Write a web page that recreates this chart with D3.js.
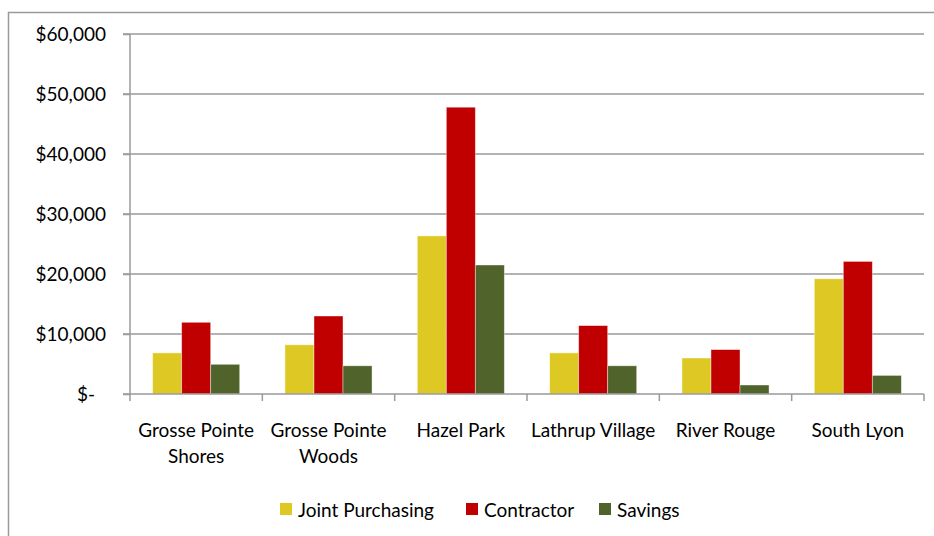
<!DOCTYPE html>
<html><head><meta charset="utf-8">
<script src="https://cdn.jsdelivr.net/npm/d3@7"></script>
<style>body{margin:0;background:#fff}svg{display:block}text{font-family:Lato,"Open Sans",sans-serif;fill:#000}</style>
</head><body><svg id="c" width="934" height="536"></svg>
<script>
const categories = ["Grosse Pointe Shores","Grosse Pointe Woods","Hazel Park","Lathrup Village","River Rouge","South Lyon"];
const categoryLines = [["Grosse Pointe","Shores"],["Grosse Pointe","Woods"],["Hazel Park"],["Lathrup Village"],["River Rouge"],["South Lyon"]];
const seriesNames = ["Joint Purchasing","Contractor","Savings"];
const jointPurchasing = [6850, 8200, 26350, 6850, 6000, 19200];
const contractor = [11950, 13000, 47800, 11400, 7400, 22100];
const savings = [4950, 4700, 21500, 4700, 1500, 3100];
const yTicks = [0,10000,20000,30000,40000,50000,60000];
const yTickLabels = ["$-","$10,000","$20,000","$30,000","$40,000","$50,000","$60,000"];
const colors = ["#DEC823","#C00000","#50632A"];

const seriesValues = [jointPurchasing, contractor, savings];
const svg = d3.select("#c");
const L = 130, R = 924, T = 34, B = 394;
const FS = "19px";

svg.append("rect").attr("x",8.5).attr("y",12.5).attr("width",940).attr("height",540)
  .attr("fill","none").attr("stroke","#9a9a9a").attr("stroke-width",1.5);

const x0 = d3.scaleBand().domain(categories).range([L,R]).padding(0);
const x1 = d3.scaleBand().domain(seriesNames).range([0,x0.bandwidth()]).paddingInner(0).paddingOuter(0.78);
const y = d3.scaleLinear().domain([0,60000]).range([B,T]);

// gridlines
svg.append("g").selectAll("line").data(yTicks.slice(1)).join("line")
  .attr("x1",L-7).attr("x2",R).attr("y1",d=>y(d)).attr("y2",d=>y(d))
  .attr("stroke","#9a9a9a").attr("stroke-width",1.5);

// bars
const g = svg.append("g");
categories.forEach((c,i)=>{
  seriesNames.forEach((s,j)=>{
    const v = seriesValues[j][i];
    g.append("rect").attr("x",x0(c)+x1(s)).attr("y",y(v)).attr("width",x1.bandwidth()).attr("height",y(0)-y(v))
      .attr("fill",colors[j]).attr("stroke","rgba(255,255,255,0.5)").attr("stroke-width",0.8);
  });
});

// y axis
const ya = svg.append("g").attr("transform",`translate(${L},0)`)
  .call(d3.axisLeft(y).tickValues(yTicks).tickSize(7).tickPadding(17).tickFormat((d,i)=>yTickLabels[i]));
ya.select(".domain").attr("stroke","#9a9a9a").attr("stroke-width",1.5).attr("d",`M0,${T}V${B}`);
ya.selectAll(".tick line").attr("stroke","#9a9a9a").attr("stroke-width",1.5);
ya.selectAll(".tick text").style("font-size",FS).style("font-family","Lato, sans-serif").attr("fill","#000");
ya.selectAll(".tick").filter(d=>d===0).select("text").attr("x",-35);

// x axis
svg.append("line").attr("x1",L-7).attr("x2",R).attr("y1",B).attr("y2",B).attr("stroke","#9a9a9a").attr("stroke-width",1.5);
const bounds = categories.map(c=>x0(c)).concat([R]);
svg.append("g").selectAll("line").data(bounds).join("line")
  .attr("x1",d=>d).attr("x2",d=>d).attr("y1",B).attr("y2",B+7).attr("stroke","#9a9a9a").attr("stroke-width",1.5);
const xl = svg.append("g");
categories.forEach((c,i)=>{
  const t = xl.append("text").attr("x",x0(c)+x0.bandwidth()/2).attr("y",437).attr("text-anchor","middle").style("font-size",FS);
  categoryLines[i].forEach((ln,k)=>t.append("tspan").attr("x",x0(c)+x0.bandwidth()/2).attr("dy",k?26:0).text(ln));
});

// legend
const legX = [280, 466, 599];
const lg = svg.append("g");
seriesNames.forEach((s,j)=>{
  lg.append("rect").attr("x",legX[j]).attr("y",503).attr("width",12).attr("height",12).attr("fill",colors[j]);
  lg.append("text").attr("x",legX[j]+18).attr("y",517).style("font-size",FS).text(s);
});
</script></body></html>
